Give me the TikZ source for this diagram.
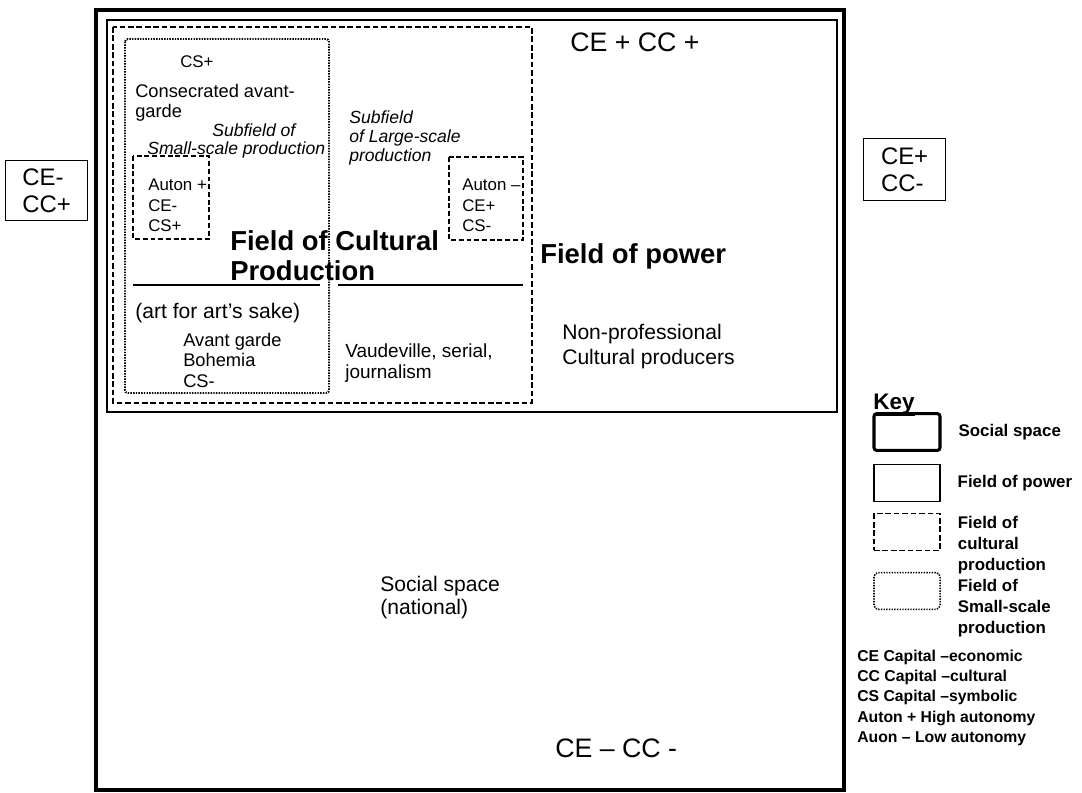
\documentclass[tikz,border=0pt]{standalone}
\usepackage{fontspec}
\setmainfont{Liberation Sans}
\usetikzlibrary{positioning}

\newcommand{\fsz}[2]{\fontsize{#1}{#2}\selectfont}

\begin{document}
\begin{tikzpicture}[
  x=0.025cm,y=-0.025cm,
  txt/.style={inner sep=0pt,align=left,anchor=north west},
  social/.style={draw,line width=2.2pt},
  power/.style={draw,line width=0.9pt},
  cultural/.style={draw,line width=1.3pt,dash pattern=on 4pt off 2pt},
  smallscale/.style={draw,line width=1.4pt,dash pattern=on 1pt off 0.9pt},
  autonbox/.style={draw,line width=1.1pt,dash pattern=on 3.5pt off 2pt},
  cebox/.style={draw,line width=0.8pt,align=left,minimum width=2.05cm,inner sep=2pt,font=\fsz{17}{19.5}},
  keybox/.style={minimum width=1.65cm,minimum height=0.92cm,inner sep=0pt},
  keylbl/.style={inner sep=0pt,align=left,font=\fsz{12}{15}\bfseries}
]
\useasboundingbox (0,0) rectangle (1082,792);

% nested fields
\draw[social] (96,10) rectangle (844,790);
\draw[power] (107,20) rectangle (837,412);
\draw[cultural] (113,27) rectangle (532,403);
\draw[smallscale,rounded corners=2pt] (125,39) rectangle (329,393);
\draw[autonbox] (133,156) rectangle (209,239);
\draw[autonbox] (449,157) rectangle (523,240);
\draw[line width=0.9pt] (133,285) -- (320,285);
\draw[line width=0.9pt] (338,285) -- (523,285);

% texts inside the field of cultural production
\node[txt,anchor=base west,font=\fsz{12}{14}] (csplus) at (180,67) {CS+};
\node[txt,font=\fsz{13}{14.2}] (consec) at (135,83.5) {Consecrated avant-\\garde};
\node[txt,anchor=base west,font=\fsz{12.5}{13}\itshape] (ssub1) at (212,136) {Subfield of};
\node[txt,anchor=base west,font=\fsz{12.5}{13}\itshape] (ssub2) at (147,154) {Small-scale production};
\node[txt,font=\fsz{12.5}{13.5}\itshape] (lsub) at (349,110.5) {Subfield\\of Large-scale\\production};
\node[txt,font=\fsz{12}{14.6}] (autonhi) at (148,179) {Auton +\\CE-\\CS+};
\node[txt,font=\fsz{12}{14.6}] (autonlo) at (462,179) {Auton --\\CE+\\CS-};
\node[txt,font=\fsz{19.5}{21.3}\bfseries] (fcp) at (230,230) {Field of Cultural\\Production};
\node[txt,anchor=base west,font=\fsz{15}{17}] (artsake) at (135,318.5) {(art for art's sake)};
\node[txt,font=\fsz{13}{14.6}] (avant) at (183,332.5) {Avant garde\\Bohemia\\CS-};
\node[txt,font=\fsz{13.5}{14.9}] (vaud) at (345,343) {Vaudeville, serial,\\journalism};

% field of power and social space
\node[txt,anchor=base west,font=\fsz{19}{21}] (ceccplus) at (570,51.5) {CE + CC +};
\node[txt,anchor=base west,font=\fsz{19.5}{21}\bfseries] (fpower) at (540,263) {Field of power};
\node[txt,font=\fsz{15}{17.8}] (nonprof) at (562,323.5) {Non-professional\\Cultural producers};
\node[txt,font=\fsz{15}{17}] (socspace) at (380,575.5) {Social space\\(national)};
\node[txt,anchor=base west,font=\fsz{19}{21}] (ceccminus) at (555,757.5) {CE -- CC -};

% outside boxes
\node[cebox,anchor=north west,minimum height=1.5cm] (ceminus) at (5,160) {CE-\\CC+};
\node[cebox,anchor=north west,minimum height=1.55cm] (ceplus) at (863,138) {CE+\\CC-};

% key
\node[txt,anchor=base west,font=\fsz{16}{18}\bfseries] (key) at (873,409) {\underline{Key}};
\node[keybox,draw,line width=2.2pt,rounded corners=2pt] (keysoc) at (907,432) {};
\node[keybox,draw,line width=0.9pt] (keypow) at (907,483) {};
\node[keybox,cultural,line width=1.1pt] (keycul) at (907,532) {};
\node[keybox,smallscale,line width=1.1pt,rounded corners=3pt] (keyss) at (907,591) {};
\node[keylbl,right=0.42cm of keysoc] (keysoclbl) {Social space};
\node[keylbl,right=0.42cm of keypow] (keypowlbl) {Field of power};
\node[keylbl,right=0.42cm of keycul.north east,anchor=north west,yshift=-2pt] (keycullbl) {Field of\\cultural\\production};
\node[keylbl,right=0.42cm of keyss.north east,anchor=north west,yshift=-5pt] (keysslbl) {Field of\\Small-scale\\production};
\node[txt,font=\fsz{11.2}{14.3}\bfseries] (legend) at (857,650) {CE Capital --economic\\CC Capital --cultural\\CS Capital --symbolic\\Auton + High autonomy\\Auon -- Low autonomy};
\end{tikzpicture}
\end{document}
